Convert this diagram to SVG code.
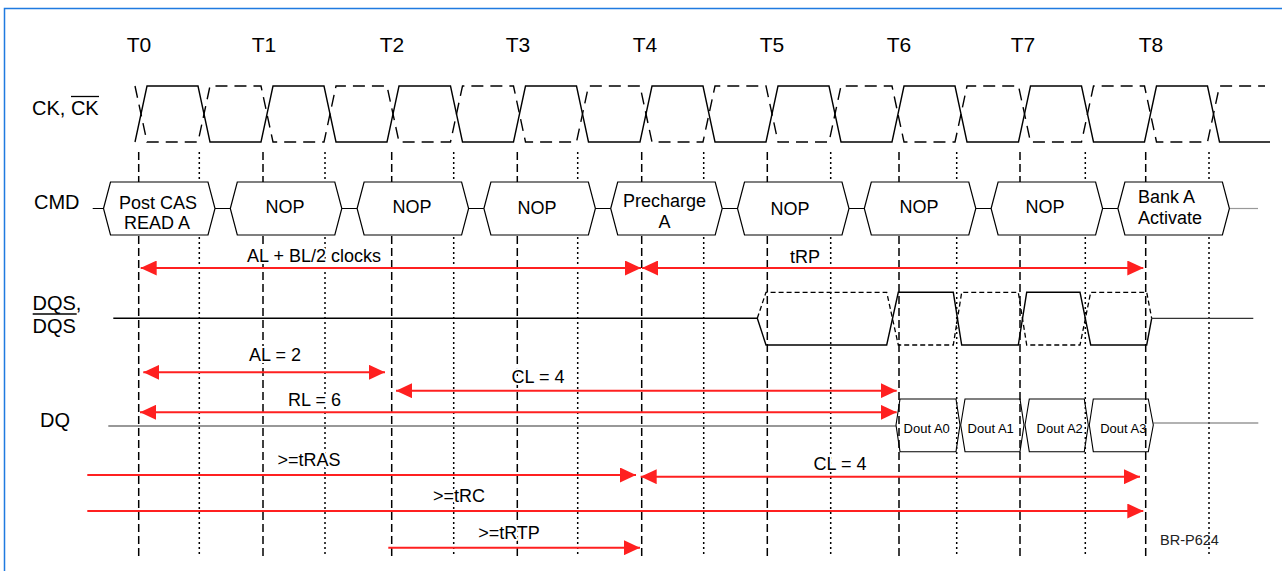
<svg xmlns="http://www.w3.org/2000/svg" width="1282" height="571" viewBox="0 0 1282 571">
<style>
text{font-family:"Liberation Sans",Arial,Helvetica,sans-serif;fill:#000}
.t{font-size:21px;text-anchor:middle}
.sig{font-size:20px}
.cmd{font-size:18px;text-anchor:middle}
.ann{font-size:18px;text-anchor:middle;stroke:#fff;stroke-width:4;stroke-linejoin:round;paint-order:stroke}
.dout{font-size:13px;text-anchor:middle}
.vd{stroke:#000;stroke-width:1.5;stroke-dasharray:8 4;fill:none}
.vt{stroke:#000;stroke-width:1.5;stroke-dasharray:2 3;fill:none}
.box{fill:#fff;stroke:#000;stroke-width:1.2}
.dbox{fill:none;stroke:#000;stroke-width:1.1}
.red{stroke:#ff2020;stroke-width:2;fill:none}
.wave{fill:none;stroke:#000;stroke-width:1.4}
.wdash{fill:none;stroke:#000;stroke-width:1.4;stroke-dasharray:12 7}
.qdash{fill:none;stroke:#000;stroke-width:1.3;stroke-dasharray:5 3}
</style>
<defs>
<marker id="ah" viewBox="0 0 16 15" refX="16" refY="7.5" markerWidth="16" markerHeight="15" markerUnits="userSpaceOnUse" orient="auto-start-reverse"><path d="M0,0 L16,7.5 L0,15 z" fill="#ff2020"/></marker>
</defs>
<rect width="1282" height="571" fill="#fff"/>
<path d="M4.5,571 V8.5 H1282" fill="none" stroke="#1f7ae0" stroke-width="1.5"/>

<g id="time-labels">
<text class="t" x="139" y="52">T0</text>
<text class="t" x="264" y="52">T1</text>
<text class="t" x="392" y="52">T2</text>
<text class="t" x="518" y="52">T3</text>
<text class="t" x="645" y="52">T4</text>
<text class="t" x="772" y="52">T5</text>
<text class="t" x="899" y="52">T6</text>
<text class="t" x="1023" y="52">T7</text>
<text class="t" x="1151" y="52">T8</text>
</g>

<g id="signal-labels">
<text class="sig" x="32" y="115">CK, CK</text>
<line x1="71" y1="96.5" x2="99" y2="96.5" stroke="#000" stroke-width="1.3"/>
<text class="sig" x="34" y="209">CMD</text>
<text class="sig" x="32.5" y="310">DQS,</text>
<line x1="32.7" y1="314" x2="76.7" y2="314" stroke="#000" stroke-width="1.3"/>
<text class="sig" x="32.5" y="333">DQS</text>
<text class="sig" x="40" y="427">DQ</text>
</g>

<g id="gridlines">
<path class="vd" d="M138.7,152V560 M263,152V560 M391.7,152V560 M517.3,152V560 M641.7,152V560 M767.3,152V560 M899,152V560 M1020,152V560 M1145.7,152V560"/>
<path class="vt" d="M199.3,152V556 M325,152V556 M453.7,152V556 M577.7,152V556 M703.7,152V556 M830.7,152V556 M956.7,152V556 M1085.3,152V556 M1209,152V556"/>
</g>

<g id="clock">
<path class="wave" d="M135,142 L147,86 L198,86 L210,142 L261,142 L273,86 L324,86 L336,142 L387,142 L399,86 L450.5,86 L462.5,142 L513.5,142 L525.5,86 L576.5,86 L588.5,142 L640,142 L652,86 L703,86 L715,142 L766,142 L778,86 L829,86 L841,142 L892,142 L904,86 L955,86 L967,142 L1018.5,142 L1030.5,86 L1081.5,86 L1093.5,142 L1144.5,142 L1156.5,86 L1207.5,86 L1219.5,142 L1270,142"/>
<path class="wdash" d="M135,86 L147,142 L198,142 L210,86 L261,86 L273,142 L324,142 L336,86 L387,86 L399,142 L450.5,142 L462.5,86 L513.5,86 L525.5,142 L576.5,142 L588.5,86 L640,86 L652,142 L703,142 L715,86 L766,86 L778,142 L829,142 L841,86 L892,86 L904,142 L955,142 L967,86 L1018.5,86 L1030.5,142 L1081.5,142 L1093.5,86 L1144.5,86 L1156.5,142 L1207.5,142 L1219.5,86 L1265,86"/>
</g>

<g id="cmd-bus">
<path d="M92.7,208.5 H1229.4" stroke="#000" stroke-width="1.2" fill="none"/>
<path d="M1229.4,208.5 H1258" stroke="#999" stroke-width="1.2" fill="none"/>
</g>

<g id="cmd0">
<polygon class="box" points="103.5,208.5 110.5,182 208,182 215,208.5 208,235 110.5,235"/>
<text class="cmd" x="158" y="209">Post CAS</text>
<text class="cmd" x="157" y="229">READ A</text>
</g>
<g id="cmd1">
<polygon class="box" points="230.3,208.5 237.3,182 334.8,182 341.8,208.5 334.8,235 237.3,235"/>
<text class="cmd" x="285" y="213">NOP</text>
</g>
<g id="cmd2">
<polygon class="box" points="357.1,208.5 364.1,182 461.6,182 468.6,208.5 461.6,235 364.1,235"/>
<text class="cmd" x="412" y="213">NOP</text>
</g>
<g id="cmd3">
<polygon class="box" points="483.9,208.5 490.9,182 588.4,182 595.4,208.5 588.4,235 490.9,235"/>
<text class="cmd" x="537" y="214">NOP</text>
</g>
<g id="cmd4">
<polygon class="box" points="610.7,208.5 617.7,182 715.2,182 722.2,208.5 715.2,235 617.7,235"/>
<text class="cmd" x="664.5" y="207">Precharge</text>
<text class="cmd" x="664.5" y="228">A</text>
</g>
<g id="cmd5">
<polygon class="box" points="737.5,208.5 744.5,182 842,182 849,208.5 842,235 744.5,235"/>
<text class="cmd" x="790" y="215">NOP</text>
</g>
<g id="cmd6">
<polygon class="box" points="864.3,208.5 871.3,182 968.8,182 975.8,208.5 968.8,235 871.3,235"/>
<text class="cmd" x="919" y="213">NOP</text>
</g>
<g id="cmd7">
<polygon class="box" points="991.1,208.5 998.1,182 1095.6,182 1102.6,208.5 1095.6,235 998.1,235"/>
<text class="cmd" x="1045" y="213">NOP</text>
</g>
<g id="cmd8">
<polygon class="box" points="1117.9,208.5 1124.9,182 1222.4,182 1229.4,208.5 1222.4,235 1124.9,235"/>
<text class="cmd" x="1138" y="203" style="text-anchor:start">Bank A</text>
<text class="cmd" x="1138" y="224" style="text-anchor:start">Activate</text>
</g>

<g id="dqs">
<path class="wave" d="M113.3,318.3 H757.3 L766,345 H886.7 L898.3,292.3 H953.3 L961.7,345 H1018.3 L1026.7,292.3 H1080 L1090.7,345 H1146.7 L1151.7,318.3"/>
<path class="qdash" d="M757.3,318.3 L766,292.3 H886.7 L898.3,345 H953.3 L961.7,292.3 H1018.3 L1026.7,345 H1080 L1090.7,292.3 H1146.7 L1151.7,318.3"/>
<path d="M1151.7,318.3 H1253.3" stroke="#333" stroke-width="1.2" fill="none"/>
</g>

<g id="dq">
<path d="M108.3,426 H896" stroke="#333" stroke-width="1.1" fill="none"/>
<path d="M1153.3,423 H1258.3" stroke="#666" stroke-width="1.2" fill="none"/>
</g>
<g id="dout0">
<polygon class="dbox" points="896,425 900,399 956,399 960,425 956,451.7 900,451.7"/>
<text class="dout" x="926.7" y="433">Dout A0</text>
</g>
<g id="dout1">
<polygon class="dbox" points="960.7,425 965,399 1020,399 1024,425 1020,451.7 965,451.7"/>
<text class="dout" x="990.7" y="433">Dout A1</text>
</g>
<g id="dout2">
<polygon class="dbox" points="1025,425 1029.3,399 1084.3,399 1088.3,425 1084.3,451.7 1029.3,451.7"/>
<text class="dout" x="1059.7" y="433">Dout A2</text>
</g>
<g id="dout3">
<polygon class="dbox" points="1089.3,425 1093.3,399 1148.3,399 1153.3,425 1148.3,451.7 1093.3,451.7"/>
<text class="dout" x="1123.3" y="433">Dout A3</text>
</g>

<g id="connectors">
<path class="red" d="M140.7,268 H641" marker-start="url(#ah)" marker-end="url(#ah)"/>
<path class="red" d="M642,268 H1143.3" marker-start="url(#ah)" marker-end="url(#ah)"/>
<path class="red" d="M143.3,372.3 H385" marker-start="url(#ah)" marker-end="url(#ah)"/>
<path class="red" d="M396,390.7 H896.7" marker-start="url(#ah)" marker-end="url(#ah)"/>
<path class="red" d="M140,412.3 H896.7" marker-start="url(#ah)" marker-end="url(#ah)"/>
<path class="red" d="M87.3,475 H636" marker-end="url(#ah)"/>
<path class="red" d="M640.7,476.7 H1140" marker-start="url(#ah)" marker-end="url(#ah)"/>
<path class="red" d="M87.3,511 H1143.3" marker-end="url(#ah)"/>
<path class="red" d="M388.3,547.7 H640" marker-end="url(#ah)"/>
</g>

<g id="timing-labels">
<text class="ann" x="314" y="262">AL + BL/2 clocks</text>
<text class="ann" x="805" y="263">tRP</text>
<text class="ann" x="275" y="361">AL = 2</text>
<text class="ann" x="538" y="383">CL = 4</text>
<text class="ann" x="314.5" y="406">RL = 6</text>
<text class="ann" x="309" y="466">&gt;=tRAS</text>
<text class="ann" x="840" y="470">CL = 4</text>
<text class="ann" x="459" y="502">&gt;=tRC</text>
<text class="ann" x="509" y="539">&gt;=tRTP</text>
<text x="1160" y="545" style="font-size:14.5px;fill:#222">BR-P624</text>
</g>
</svg>
